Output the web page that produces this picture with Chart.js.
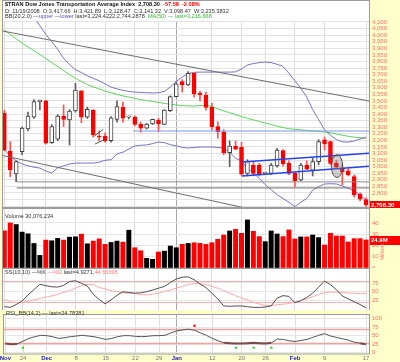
<!DOCTYPE html>
<html>
<head>
<meta charset="utf-8">
<script src="https://cdn.jsdelivr.net/npm/chart.js@4.4.1/dist/chart.umd.min.js"></script>
<style>
  body { margin: 0; background: #ffffcc; }
  #wrap { position: relative; width: 400px; height: 362px; background: #ffffcc; overflow: hidden; }
  canvas { position: absolute; left: 0; }
</style>
</head>
<body>
<div id="wrap">
  <canvas id="cPrice" width="400" height="208" style="top:0px"></canvas>
  <canvas id="cVol" width="400" height="60" style="top:208px"></canvas>
  <canvas id="cSto" width="400" height="42" style="top:268px"></canvas>
  <canvas id="cRsi" width="400" height="52" style="top:310px"></canvas>
</div>
<script>
// ---- daily candles, $TRAN, 62 sessions ----
const opens  = [3406,3119,2944,3114,3286,3376,3494,3501,3183,3208, 3385,3355,3423,3576,3376,3431,3233,3233,3198,3360,
                3451,3376,3376,3322,3292,3324,3355,3322,3425,3532, 3646,3621,3710,3559,3545,3451,3304,3265,3106,3157,
                3147,2949,3012,3012,2949,2949,3005,3122,3025,2949, 2899,3012,2974,3038,3203,3190,3025,2989,2969,2924,
                2790,2750];
const highs  = [3429,3190,3044,3302,3415,3510,3507,3505,3320,3396, 3469,3434,3634,3578,3453,3434,3272,3258,3381,3501,
                3491,3386,3386,3339,3329,3362,3367,3434,3538,3646, 3662,3722,3715,3572,3567,3481,3339,3282,3196,3196,
                3186,3053,3034,3025,2958,3025,3139,3129,3044,2958, 3025,3044,3063,3205,3225,3196,3044,3015,2986,2936,
                2800,2762];
const lows   = [3120,2924,2886,3091,3272,3367,3431,3172,3177,3196, 3304,3164,3415,3334,3367,3224,3196,3186,3186,3339,
                3339,3362,3310,3262,3286,3320,3265,3320,3419,3529, 3567,3615,3529,3500,3429,3282,3216,3091,3000,3129,
                2929,2929,2929,2929,2939,2939,2996,3005,2939,2848, 2891,2977,2929,3015,3127,3015,2986,2861,2929,2769,
                2740,2698];
const closes = [3126,2975,3038,3294,3385,3494,3507,3178,3304,3385, 3360,3423,3583,3376,3436,3241,3225,3195,3372,3456,
                3368,3376,3322,3292,3324,3360,3324,3431,3532,3629, 3621,3710,3553,3545,3451,3304,3265,3106,3157,3132,
                2942,3038,2949,2946,2949,3012,3126,3020,2949,2893, 3012,2980,3038,3190,3172,3025,2995,2962,2937,2784,
                2752,2708.30];
// volume, millions of shares
const volume = [33,40,38.6,31.9,30.4,21.8,11.2,24.8,24.2,26.3, 24.8,27.4,27.7,30.1,21.5,23.9,25.9,21,22.7,23.9,
                23,33.6,18,15.3,8.6,7.7,14.2,15,19.5,18, 21,21.8,22.4,21.9,21,22.5,25.5,29.3,32.9,34.4,
                30.8,42.7,32.6,27.9,23.4,32.9,30.2,27.9,33.8,25.8, 27.6,27.6,29.3,27,20.4,30.8,28.4,28.4,23.1,26.1,
                26.1,24.9];
// overlays: Bollinger Bands (20,2) and 50-day moving average
const bbUpper = [4386,4347,4300,4252,4195,4138,4071,4005,3952,3891, 3824,3776,3738,3715,3691,3672,3653,3629,3605,3591,
                 3581,3572,3567,3564,3562,3560,3562,3572,3606,3648, 3681,3708,3717,3719,3719,3719,3719,3719,3719,3721,
                 3743,3773,3784,3791,3795,3791,3778,3762,3710,3653, 3596,3529,3434,3358,3281,3239,3205,3189,3187,3195,
                 3210,3224];
const bbLower = [3129,3082,3044,3020,3006,2996,2989,2967,2952,2991, 3006,3020,3027,3027,3027,3027,3034,3048,3053,3096,
                 3110,3134,3157,3163,3165,3175,3187,3182,3167,3158, 3146,3142,3146,3149,3149,3149,3146,3142,3110,3063,
                 3044,2986,2952,2910,2863,2825,2787,2758,2729,2696, 2729,2758,2820,2848,2868,2870,2868,2853,2835,2815,
                 2785,2744];
const ma50    = [4039,4005,3972,3940,3910,3883,3853,3822,3791,3762, 3731,3700,3672,3648,3624,3607,3591,3575,3562,3550,
                 3538,3529,3519,3510,3502,3496,3489,3481,3474,3469, 3465,3462,3461,3464,3468,3458,3439,3424,3410,3396,
                 3381,3367,3356,3343,3332,3320,3308,3297,3288,3284, 3280,3275,3271,3268,3264,3258,3248,3239,3231,3224,
                 3220,3216.7];
// slow stochastic and RSI
const stoK = [8,6,14,24,41,56,71,67,64,63, 68,79,81,74,66,43,28,16,27,40, 50,48,46,47,50,55,60,65,76,86,
              91,92,84,72,62,46,30,10,9,10, 10,8,6,6,7,10,32,39,37,19, 25,34,46,63,80,70,56,38,30,22, 14,4.9];
const stoD = [29,22,20,20,23,27,31,35,38,43, 48,53,60,67,71,70,62,58,53,50, 47,46,45,42,41,43,46,51,55,60,
              65,70,73,73,70,65,60,53,46,39, 32,27,20,16,11,11,13,15,17,21, 24,30,36,42,48,49,49,48,46,46,
              45,44.6];
const rsi  = [27,25,26,34,42,47,51,50,47,42, 44,47,49,51,49,47,43,39,42,47, 50,50,48,47,48,50,50,51,58,64,
              67,69,66,58,51,42,35,29,28,27, 27,28,29,28,27,29,40,39,35,33, 36,39,45,51,56,49,45,41,37,31,
              28,24.8];
const rsiHigh = [{ x: 32, y: 79 }];
const rsiLow  = [{ x: 3, y: 15 }, { x: 39, y: 15 }, { x: 42, y: 15 }, { x: 45, y: 15 }];

// hand-drawn annotations, in (session, price)
const trendLines = [
  { pts: [[-0.22, 4031], [61.5, 3499]], color: '#6e6e6e', w: 1 },
  { pts: [[-0.22, 3084], [40.6, 2686]], color: '#6e6e6e', w: 1 },
  { pts: [[2.1, 2884], [61.5, 2884]], color: '#8a8a8a', w: 1 },
  { pts: [[2.1, 2838], [61.5, 2838]], color: '#6e6e6e', w: 1 },
  { pts: [[21.7, 3271], [61.5, 3271]], color: '#7a96f0', w: 1.2 },
  { pts: [[40.1, 3035], [61.5, 3101]], color: '#2244ee', w: 1.5 },
  { pts: [[40.1, 2929], [61.5, 3003]], color: '#2244ee', w: 1.5 },
  { pts: [[15.2, 3233], [16.7, 3284]], color: '#555555', w: 1 },
  { pts: [[15.3, 3172], [16.7, 3202]], color: '#555555', w: 1 }
];
const circleMark = { x: 56.1, y: 3004, rx: 0.95, ry: 87 };

// x axis
const tickIdx  = [0, 3, 7, 12, 17, 22, 26, 29, 35, 40, 44, 49, 54, 61];
const tickText = ['Nov', '24', 'Dec', '8', '15', '22', '29', 'Jan', '12', '20', '26', 'Feb', '9', '17'];
const months = ['Nov', 'Dec', 'Jan', 'Feb'];
const X_MIN = -0.22, X_MAX = 61.5;

const FONT = '"Liberation Sans", Arial, sans-serif';
const RED = '#ff0000';
const AXIS_RED = '#ff6f6f';
Chart.defaults.font.family = FONT;
Chart.defaults.animation = false;
Chart.defaults.plugins.legend.display = false;
Chart.defaults.plugins.tooltip.enabled = false;

const down = closes.map((c, i) => c < (i ? closes[i - 1] : opens[0]));
const filled = closes.map((c, i) => c < opens[i]);

// keep tick labels from pushing the plot area around
function noPad(ax) { ax.paddingTop = 0; ax.paddingBottom = 0; ax.paddingLeft = 0; ax.paddingRight = 0; }

function xAxis(bottom) {
  return {
    type: 'linear', min: X_MIN, max: X_MAX, offset: false,
    afterBuildTicks: ax => { ax.ticks = tickIdx.map(v => ({ value: v })); },
    afterFit: ax => { ax.height = bottom ? 8.5 : 0; noPad(ax); },
    grid: { offset: false, drawTicks: false,
      color: c => tickText[c.index] === 'Jan' ? '#a9a9a9' : '#dddddd' },
    border: { display: false },
    ticks: {
      display: bottom, autoSkip: false, maxRotation: 0, padding: 1.5,
      font: c => ({ size: 6, family: FONT, weight: months.includes(tickText[c.index]) ? 'bold' : 'normal' }),
      color: c => months.includes(tickText[c.index]) ? '#1a1acc' : '#777777',
      callback: (v, i) => tickText[i]
    }
  };
}

function yAxis(min, max, tickList, fmt) {
  return {
    position: 'right', min, max,
    afterBuildTicks: ax => { ax.ticks = tickList.map(v => ({ value: v })); },
    afterFit: ax => { ax.width = 31; noPad(ax); },
    grid: { color: '#e6e6e6', drawTicks: false },
    border: { display: false },
    ticks: { autoSkip: false, color: AXIS_RED, font: { size: 6, family: FONT }, padding: 3, callback: fmt }
  };
}

const panelPlugin = {
  id: 'panel',
  beforeDraw(chart, args, o) {
    const { ctx, chartArea: a } = chart;
    const top = o.whiteTop !== undefined ? o.whiteTop : a.top;
    ctx.save();
    ctx.fillStyle = '#ffffff';
    ctx.fillRect(a.left, top, a.right - a.left, a.bottom - top);
    ctx.restore();
  },
  beforeDatasetsDraw(chart, args, o) {
    const { ctx, chartArea: a, scales } = chart;
    (o.refLines || []).forEach(r => {
      const py = Math.round(scales.y.getPixelForValue(r.value)) + 0.5;
      ctx.save();
      ctx.strokeStyle = r.color; ctx.lineWidth = r.width || 1;
      ctx.beginPath(); ctx.moveTo(a.left, py); ctx.lineTo(a.right, py); ctx.stroke();
      ctx.restore();
    });
  },
  afterDraw(chart, args, o) {
    const { ctx, chartArea: a, scales } = chart;
    const top = o.whiteTop !== undefined ? o.whiteTop : a.top;
    ctx.save();
    ctx.strokeStyle = '#9c9c9c'; ctx.lineWidth = 1;
    ctx.strokeRect(a.left - 0.5, top + 0.5, a.right - a.left + 1, a.bottom - top);
    ctx.textBaseline = 'middle';
    (o.headers || []).forEach(h => {
      let x = a.left + 2;
      h.parts.forEach(p => {
        ctx.font = (p.bold ? 'bold ' : '') + (p.size || 5.6) + 'px ' + FONT;
        ctx.fillStyle = p.color || '#222222';
        ctx.fillText(p.text, x, h.y);
        x += ctx.measureText(p.text).width;
      });
    });
    if (o.box) {
      const py = Math.round(scales.y.getPixelForValue(o.box.value));
      ctx.fillStyle = RED;
      ctx.fillRect(a.right + 1, py - 4, 31, 9);
      ctx.fillStyle = '#ffffff';
      ctx.font = 'bold 6px ' + FONT;
      ctx.fillText(o.box.text, a.right + 2, py + 0.5);
    }
    if (o.sideText) {
      ctx.translate(a.right + 14, o.sideText.y);
      ctx.rotate(-Math.PI / 2);
      ctx.fillStyle = AXIS_RED;
      ctx.font = '5px ' + FONT;
      ctx.fillText(o.sideText.text, 0, 0);
    }
    ctx.restore();
  }
};

const circlePlugin = {
  id: 'circleMark',
  afterDatasetsDraw(chart) {
    const { ctx, scales: { x, y } } = chart;
    const cx = x.getPixelForValue(circleMark.x), cy = y.getPixelForValue(circleMark.y);
    const rx = x.getPixelForValue(circleMark.x + circleMark.rx) - cx;
    const ry = cy - y.getPixelForValue(circleMark.y + circleMark.ry);
    ctx.save();
    ctx.beginPath();
    ctx.ellipse(cx, cy, rx, ry, 0, 0, Math.PI * 2);
    ctx.fillStyle = 'rgba(120,120,120,0.35)';
    ctx.fill();
    ctx.strokeStyle = '#555555'; ctx.lineWidth = 1;
    ctx.stroke();
    ctx.restore();
  }
};

const pts = arr => arr.map((v, i) => ({ x: i, y: v }));
const lineSet = (data, color, w, order) => ({
  type: 'line', data, borderColor: color, borderWidth: w, pointRadius: 0, tension: 0, order
});

// ---- price panel ----
new Chart(document.getElementById('cPrice'), {
  type: 'bar',
  data: {
    datasets: [
      lineSet(pts(bbUpper), '#7575c6', 1, 20),
      lineSet(pts(bbLower), '#7575c6', 1, 20),
      lineSet(pts(ma50), '#5fd35f', 1, 20),
      {
        data: highs.map((h, i) => ({ x: i, y: [lows[i], h] })),
        backgroundColor: down.map(d => d ? '#ff5050' : '#606060'),
        barThickness: 1, grouped: false, order: 12
      },
      {
        data: closes.map((c, i) => ({ x: i, y: [opens[i], c] })),
        backgroundColor: closes.map((c, i) => filled[i] ? (down[i] ? RED : '#222222') : '#ffffff'),
        borderColor: down.map(d => d ? RED : '#404040'),
        borderWidth: 1, borderSkipped: false, barThickness: 4, minBarLength: 1,
        grouped: false, order: 11
      },
      ...trendLines.map(t => lineSet(t.pts.map(p => ({ x: p[0], y: p[1] })), t.color, t.w, 1))
    ]
  },
  options: {
    responsive: false,
    layout: { padding: { left: 3, top: 21, bottom: 1 } },
    scales: {
      x: xAxis(false),
      y: {
        position: 'right', min: 2693, max: 4107.6,
        afterBuildTicks: ax => {
          const t = [];
          for (let v = 2700; v <= 4100; v += 50) t.push({ value: v });
          ax.ticks = t;
        },
        afterFit: ax => { ax.width = 31; noPad(ax); },
        grid: { color: '#e3e3e3', drawTicks: false },
        border: { display: false },
        ticks: { autoSkip: false, color: AXIS_RED, font: { size: 6, family: FONT }, padding: 3,
          callback: v => v >= 2800 ? v.toLocaleString('en-US') : '' }
      }
    },
    plugins: {
      panel: {
        whiteTop: 0,
        headers: [
          { y: 4.5, parts: [
            { text: '$TRAN Dow Jones Transportation Average Index  2,708.30  ', bold: true, color: '#111' },
            { text: '-57.58  -2.08%', color: RED, bold: true } ] },
          { y: 11, parts: [
            { text: 'D: 11/19/2008  O:3,417.66  H:3,421.89  L:3,128.47  C:3,141.32  V:3,098.47  W:3,235.3832', color: '#333' } ] },
          { y: 16.5, parts: [
            { text: 'BB(20,2.0) ', color: '#333' },
            { text: '\u2014upper \u2014lower ', color: '#5555bb' },
            { text: 'last=3,224.4222;2,744.2878  ', color: '#333' },
            { text: 'MA(50) \u2014 last=3,216.668', color: '#33bb33' } ] }
        ],
        box: { value: closes[closes.length - 1], text: '2,708.30' }
      }
    }
  },
  plugins: [panelPlugin, circlePlugin]
});

// ---- volume panel ----
new Chart(document.getElementById('cVol'), {
  type: 'bar',
  data: {
    datasets: [{
      data: pts(volume),
      backgroundColor: down.map(d => d ? RED : '#000000'),
      barThickness: 4.3, grouped: false
    }]
  },
  options: {
    responsive: false,
    layout: { padding: { left: 3 } },
    scales: {
      x: xAxis(false),
      y: yAxis(0, 53.3, [0, 10, 20, 30, 40], v => String(v))
    },
    plugins: {
      panel: {
        headers: [{ y: 8, parts: [{ text: 'Volume 30,076,234', color: '#333' }] }],
        box: { value: volume[volume.length - 1], text: '24.9M' },
        sideText: { y: 52, text: 'Millions' }
      }
    }
  },
  plugins: [panelPlugin]
});

// ---- slow stochastic panel ----
new Chart(document.getElementById('cSto'), {
  type: 'line',
  data: {
    datasets: [
      lineSet(pts(stoD), '#ffaaaa', 1, 2),
      lineSet(pts(stoK), '#505050', 1, 1)
    ]
  },
  options: {
    responsive: false,
    layout: { padding: { left: 3 } },
    scales: {
      x: xAxis(false),
      y: yAxis(-1.4, 116.9, [25, 50, 75], v => String(v))
    },
    plugins: {
      panel: {
        headers: [{ y: 4.5, parts: [
          { text: 'SS(10,10) ', color: '#333' },
          { text: '\u2014%K ', color: '#333' },
          { text: '\u2014%D ', color: '#ff7777' },
          { text: 'last=4.9271,', color: '#333' },
          { text: '44.56695', color: '#ff7777' } ] }],
        refLines: [{ value: 80, color: '#f7b0b0', width: 1.2 }, { value: 20, color: '#f7b0b0', width: 1.2 }]
      }
    }
  },
  plugins: [panelPlugin]
});

// ---- RSI panel ----
new Chart(document.getElementById('cRsi'), {
  type: 'line',
  data: {
    datasets: [
      {
        type: 'line', data: pts(rsi), borderColor: '#555555', borderWidth: 1, pointRadius: 0, order: 2,
        segment: {
          borderColor: c => (c.p0.parsed.y < 31 && c.p1.parsed.y < 31) ? '#7a4a4a' : undefined,
          borderWidth: c => (c.p0.parsed.y < 31 && c.p1.parsed.y < 31) ? 2 : undefined
        }
      },
      { type: 'line', data: rsiHigh, showLine: false, pointRadius: 1.3, pointBackgroundColor: RED, pointBorderWidth: 0, order: 1 },
      { type: 'line', data: rsiLow, showLine: false, pointRadius: 1.2, pointBackgroundColor: '#33cc33', pointBorderWidth: 0, order: 1 }
    ]
  },
  options: {
    responsive: false,
    layout: { padding: { left: 3 } },
    scales: {
      x: xAxis(true),
      y: yAxis(-2.1, 113.3, [0, 25, 50, 75, 100], v => String(v))
    },
    plugins: {
      panel: {
        headers: [{ y: 3, parts: [{ text: 'RSI_BB(14,2) \u2014 last=24.78381', color: '#333' }] }],
        refLines: [{ value: 70, color: '#f4a0a0', width: 1.3 }, { value: 30, color: '#f4a0a0', width: 1.3 }]
      }
    }
  },
  plugins: [panelPlugin]
});
</script>
</body>
</html>
